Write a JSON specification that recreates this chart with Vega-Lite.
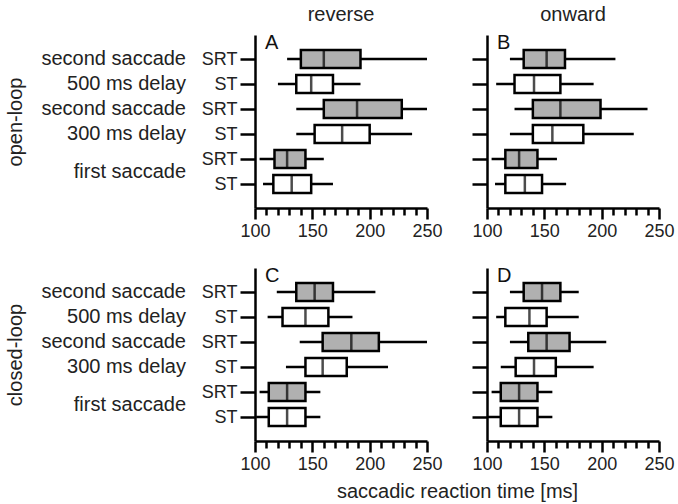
{
  "$schema": "https://vega.github.io/schema/vega-lite/v6.json",
  "padding": 5,
  "background": "white",
  "config": {
    "font": "Liberation Sans",
    "view": {"stroke": null},
    "text": {"color": "#222", "fontSize": 20},
    "axis": {"labelColor": "#222", "titleColor": "#222", "domainColor": "#000", "tickColor": "#000", "labelFontSize": 18, "titleFontSize": 20, "titleFontWeight": "normal", "grid": false, "domainWidth": 2.5, "tickWidth": 2.5, "labelFlush": false},
    "title": {"fontSize": 20, "fontWeight": "normal", "color": "#222"}
  },
  "datasets": {
    "boxes": [
      {"panel": "A", "key": "500-SRT", "type": "SRT", "min": 128, "q1": 140, "med": 160, "q3": 192, "max": 250},
      {"panel": "A", "key": "500-ST", "type": "ST", "min": 120, "q1": 136, "med": 149, "q3": 168, "max": 192},
      {"panel": "A", "key": "300-SRT", "type": "SRT", "min": 136, "q1": 160, "med": 189, "q3": 228, "max": 250},
      {"panel": "A", "key": "300-ST", "type": "ST", "min": 136, "q1": 152, "med": 176, "q3": 200, "max": 237},
      {"panel": "A", "key": "first-SRT", "type": "SRT", "min": 104, "q1": 117, "med": 128, "q3": 144, "max": 160},
      {"panel": "A", "key": "first-ST", "type": "ST", "min": 107, "q1": 116, "med": 132, "q3": 149, "max": 168},
      {"panel": "B", "key": "500-SRT", "type": "SRT", "min": 120, "q1": 132, "med": 152, "q3": 168, "max": 212},
      {"panel": "B", "key": "500-ST", "type": "ST", "min": 108, "q1": 124, "med": 141, "q3": 164, "max": 193},
      {"panel": "B", "key": "300-SRT", "type": "SRT", "min": 124, "q1": 140, "med": 164, "q3": 199, "max": 240},
      {"panel": "B", "key": "300-ST", "type": "ST", "min": 120, "q1": 140, "med": 157, "q3": 184, "max": 228},
      {"panel": "B", "key": "first-SRT", "type": "SRT", "min": 104, "q1": 116, "med": 128, "q3": 144, "max": 161},
      {"panel": "B", "key": "first-ST", "type": "ST", "min": 107, "q1": 116, "med": 133, "q3": 148, "max": 169},
      {"panel": "C", "key": "500-SRT", "type": "SRT", "min": 119, "q1": 136, "med": 152, "q3": 168, "max": 205},
      {"panel": "C", "key": "500-ST", "type": "ST", "min": 111, "q1": 124, "med": 144, "q3": 164, "max": 185},
      {"panel": "C", "key": "300-SRT", "type": "SRT", "min": 139, "q1": 159, "med": 184, "q3": 208, "max": 250},
      {"panel": "C", "key": "300-ST", "type": "ST", "min": 127, "q1": 144, "med": 159, "q3": 180, "max": 216},
      {"panel": "C", "key": "first-SRT", "type": "SRT", "min": 104, "q1": 112, "med": 128, "q3": 144, "max": 157},
      {"panel": "C", "key": "first-ST", "type": "ST", "min": 101, "q1": 112, "med": 128, "q3": 144, "max": 157},
      {"panel": "D", "key": "500-SRT", "type": "SRT", "min": 120, "q1": 132, "med": 148, "q3": 164, "max": 180},
      {"panel": "D", "key": "500-ST", "type": "ST", "min": 108, "q1": 116, "med": 137, "q3": 152, "max": 180},
      {"panel": "D", "key": "300-SRT", "type": "SRT", "min": 120, "q1": 136, "med": 152, "q3": 172, "max": 204},
      {"panel": "D", "key": "300-ST", "type": "ST", "min": 112, "q1": 125, "med": 141, "q3": 160, "max": 193},
      {"panel": "D", "key": "first-SRT", "type": "SRT", "min": 104, "q1": 112, "med": 128, "q3": 144, "max": 157},
      {"panel": "D", "key": "first-ST", "type": "ST", "min": 100, "q1": 112, "med": 128, "q3": 144, "max": 157}
    ],
    "labels": [
      {"key": "500-SRT", "text": "second saccade"},
      {"key": "500-ST", "text": "500 ms delay"},
      {"key": "300-SRT", "text": "second saccade"},
      {"key": "300-ST", "text": "300 ms delay"},
      {"key": "first-SRT", "text": "first saccade"}
    ]
  },
  "columns": 3,
  "spacing": {"row": 60, "column": 60},
  "bounds": "flush",
  "concat": [
    {
      "width": 160, "height": 173,
      "data": {"name": "labels"},
      "encoding": {
        "y": {"field": "key", "type": "nominal", "scale": {"type": "point", "domain": ["500-SRT", "500-ST", "300-SRT", "300-ST", "first-SRT", "first-ST"], "padding": 0.96}, "axis": {"title": "open-loop", "labels": false, "ticks": false, "domain": false, "titlePadding": 10}},
        "x": {"datum": 1, "type": "quantitative", "scale": {"domain": [0, 1]}, "axis": null}
      },
      "layer": [
        {"transform": [{"filter": "datum.key !== 'first-SRT'"}], "mark": {"type": "text", "align": "right", "dx": -9}, "encoding": {"text": {"field": "text"}}},
        {"transform": [{"filter": "datum.key === 'first-SRT'"}], "mark": {"type": "text", "align": "right", "dx": -9, "dy": 13}, "encoding": {"text": {"field": "text"}}}
      ]
    },
    {
      "width": 172, "height": 173,
      "title": {"text": "reverse", "frame": "group", "offset": 8},
      "data": {"name": "boxes"},
      "transform": [{"filter": "datum.panel === 'A'"}],
      "encoding": {
        "y": {"field": "key", "type": "nominal", "scale": {"type": "point", "domain": ["500-SRT", "500-ST", "300-SRT", "300-ST", "first-SRT", "first-ST"], "padding": 0.96}, "axis": {"title": null, "tickSize": 15, "labelPadding": 3, "labelExpr": "indexof(datum.value, 'SRT') >= 0 ? 'SRT' : 'ST'"}}
      },
      "resolve": {"scale": {"x": "independent"}, "axis": {"x": "independent"}},
      "layer": [
        {"mark": {"type": "rule", "strokeWidth": 2.5, "color": "#000"}, "encoding": {"x": {"field": "min", "type": "quantitative", "scale": {"domain": [100, 250], "nice": false, "zero": false}, "axis": {"orient": "bottom", "title": null, "values": [100, 150, 200, 250], "tickSize": 11, "labelPadding": 3, "labelOverlap": false}}, "x2": {"field": "max"}}},
        {"mark": {"type": "bar", "size": 18, "stroke": "#000", "strokeWidth": 2.5}, "encoding": {"x": {"field": "q1", "type": "quantitative", "scale": {"domain": [100, 250], "nice": false, "zero": false}, "axis": null}, "x2": {"field": "q3"}, "fill": {"field": "type", "type": "nominal", "scale": {"domain": ["SRT", "ST"], "range": ["#b0b0b0", "#ffffff"]}, "legend": null}}},
        {"mark": {"type": "tick", "size": 18, "thickness": 2.5, "color": "#000"}, "encoding": {"x": {"field": "med", "type": "quantitative", "scale": {"domain": [100, 250], "nice": false, "zero": false}, "axis": {"orient": "bottom", "title": null, "values": [110, 120, 130, 140, 160, 170, 180, 190, 210, 220, 230, 240], "tickSize": 7, "labels": false, "domain": false}}}},
        {"transform": [{"filter": "datum.key === '500-SRT'"}], "mark": {"type": "text", "align": "left", "baseline": "alphabetic", "dx": 10, "dy": -10, "fontSize": 20, "color": "#111"}, "encoding": {"text": {"field": "panel"}, "x": {"datum": 100, "scale": {"domain": [100, 250], "nice": false, "zero": false}, "axis": null}}}
      ]
    },
    {
      "width": 172, "height": 173,
      "title": {"text": "onward", "frame": "group", "offset": 8},
      "data": {"name": "boxes"},
      "transform": [{"filter": "datum.panel === 'B'"}],
      "encoding": {
        "y": {"field": "key", "type": "nominal", "scale": {"type": "point", "domain": ["500-SRT", "500-ST", "300-SRT", "300-ST", "first-SRT", "first-ST"], "padding": 0.96}, "axis": {"title": null, "tickSize": 15, "labels": false}}
      },
      "resolve": {"scale": {"x": "independent"}, "axis": {"x": "independent"}},
      "layer": [
        {"mark": {"type": "rule", "strokeWidth": 2.5, "color": "#000"}, "encoding": {"x": {"field": "min", "type": "quantitative", "scale": {"domain": [100, 250], "nice": false, "zero": false}, "axis": {"orient": "bottom", "title": null, "values": [100, 150, 200, 250], "tickSize": 11, "labelPadding": 3, "labelOverlap": false}}, "x2": {"field": "max"}}},
        {"mark": {"type": "bar", "size": 18, "stroke": "#000", "strokeWidth": 2.5}, "encoding": {"x": {"field": "q1", "type": "quantitative", "scale": {"domain": [100, 250], "nice": false, "zero": false}, "axis": null}, "x2": {"field": "q3"}, "fill": {"field": "type", "type": "nominal", "scale": {"domain": ["SRT", "ST"], "range": ["#b0b0b0", "#ffffff"]}, "legend": null}}},
        {"mark": {"type": "tick", "size": 18, "thickness": 2.5, "color": "#000"}, "encoding": {"x": {"field": "med", "type": "quantitative", "scale": {"domain": [100, 250], "nice": false, "zero": false}, "axis": {"orient": "bottom", "title": null, "values": [110, 120, 130, 140, 160, 170, 180, 190, 210, 220, 230, 240], "tickSize": 7, "labels": false, "domain": false}}}},
        {"transform": [{"filter": "datum.key === '500-SRT'"}], "mark": {"type": "text", "align": "left", "baseline": "alphabetic", "dx": 10, "dy": -10, "fontSize": 20, "color": "#111"}, "encoding": {"text": {"field": "panel"}, "x": {"datum": 100, "scale": {"domain": [100, 250], "nice": false, "zero": false}, "axis": null}}}
      ]
    },
    {
      "width": 160, "height": 173,
      "data": {"name": "labels"},
      "encoding": {
        "y": {"field": "key", "type": "nominal", "scale": {"type": "point", "domain": ["500-SRT", "500-ST", "300-SRT", "300-ST", "first-SRT", "first-ST"], "padding": 0.96}, "axis": {"title": "closed-loop", "labels": false, "ticks": false, "domain": false, "titlePadding": 10}},
        "x": {"datum": 1, "type": "quantitative", "scale": {"domain": [0, 1]}, "axis": null}
      },
      "layer": [
        {"transform": [{"filter": "datum.key !== 'first-SRT'"}], "mark": {"type": "text", "align": "right", "dx": -9}, "encoding": {"text": {"field": "text"}}},
        {"transform": [{"filter": "datum.key === 'first-SRT'"}], "mark": {"type": "text", "align": "right", "dx": -9, "dy": 13}, "encoding": {"text": {"field": "text"}}}
      ]
    },
    {
      "width": 172, "height": 173,
      "data": {"name": "boxes"},
      "transform": [{"filter": "datum.panel === 'C'"}],
      "encoding": {
        "y": {"field": "key", "type": "nominal", "scale": {"type": "point", "domain": ["500-SRT", "500-ST", "300-SRT", "300-ST", "first-SRT", "first-ST"], "padding": 0.96}, "axis": {"title": null, "tickSize": 15, "labelPadding": 3, "labelExpr": "indexof(datum.value, 'SRT') >= 0 ? 'SRT' : 'ST'"}}
      },
      "resolve": {"scale": {"x": "independent"}, "axis": {"x": "independent"}},
      "layer": [
        {"mark": {"type": "rule", "strokeWidth": 2.5, "color": "#000"}, "encoding": {"x": {"field": "min", "type": "quantitative", "scale": {"domain": [100, 250], "nice": false, "zero": false}, "axis": {"orient": "bottom", "title": "saccadic reaction time [ms]", "titleX": 202, "titlePadding": 8, "values": [100, 150, 200, 250], "tickSize": 11, "labelPadding": 3, "labelOverlap": false}}, "x2": {"field": "max"}}},
        {"mark": {"type": "bar", "size": 18, "stroke": "#000", "strokeWidth": 2.5}, "encoding": {"x": {"field": "q1", "type": "quantitative", "scale": {"domain": [100, 250], "nice": false, "zero": false}, "axis": null}, "x2": {"field": "q3"}, "fill": {"field": "type", "type": "nominal", "scale": {"domain": ["SRT", "ST"], "range": ["#b0b0b0", "#ffffff"]}, "legend": null}}},
        {"mark": {"type": "tick", "size": 18, "thickness": 2.5, "color": "#000"}, "encoding": {"x": {"field": "med", "type": "quantitative", "scale": {"domain": [100, 250], "nice": false, "zero": false}, "axis": {"orient": "bottom", "title": null, "values": [110, 120, 130, 140, 160, 170, 180, 190, 210, 220, 230, 240], "tickSize": 7, "labels": false, "domain": false}}}},
        {"transform": [{"filter": "datum.key === '500-SRT'"}], "mark": {"type": "text", "align": "left", "baseline": "alphabetic", "dx": 10, "dy": -10, "fontSize": 20, "color": "#111"}, "encoding": {"text": {"field": "panel"}, "x": {"datum": 100, "scale": {"domain": [100, 250], "nice": false, "zero": false}, "axis": null}}}
      ]
    },
    {
      "width": 172, "height": 173,
      "data": {"name": "boxes"},
      "transform": [{"filter": "datum.panel === 'D'"}],
      "encoding": {
        "y": {"field": "key", "type": "nominal", "scale": {"type": "point", "domain": ["500-SRT", "500-ST", "300-SRT", "300-ST", "first-SRT", "first-ST"], "padding": 0.96}, "axis": {"title": null, "tickSize": 15, "labels": false}}
      },
      "resolve": {"scale": {"x": "independent"}, "axis": {"x": "independent"}},
      "layer": [
        {"mark": {"type": "rule", "strokeWidth": 2.5, "color": "#000"}, "encoding": {"x": {"field": "min", "type": "quantitative", "scale": {"domain": [100, 250], "nice": false, "zero": false}, "axis": {"orient": "bottom", "title": null, "values": [100, 150, 200, 250], "tickSize": 11, "labelPadding": 3, "labelOverlap": false}}, "x2": {"field": "max"}}},
        {"mark": {"type": "bar", "size": 18, "stroke": "#000", "strokeWidth": 2.5}, "encoding": {"x": {"field": "q1", "type": "quantitative", "scale": {"domain": [100, 250], "nice": false, "zero": false}, "axis": null}, "x2": {"field": "q3"}, "fill": {"field": "type", "type": "nominal", "scale": {"domain": ["SRT", "ST"], "range": ["#b0b0b0", "#ffffff"]}, "legend": null}}},
        {"mark": {"type": "tick", "size": 18, "thickness": 2.5, "color": "#000"}, "encoding": {"x": {"field": "med", "type": "quantitative", "scale": {"domain": [100, 250], "nice": false, "zero": false}, "axis": {"orient": "bottom", "title": null, "values": [110, 120, 130, 140, 160, 170, 180, 190, 210, 220, 230, 240], "tickSize": 7, "labels": false, "domain": false}}}},
        {"transform": [{"filter": "datum.key === '500-SRT'"}], "mark": {"type": "text", "align": "left", "baseline": "alphabetic", "dx": 10, "dy": -10, "fontSize": 20, "color": "#111"}, "encoding": {"text": {"field": "panel"}, "x": {"datum": 100, "scale": {"domain": [100, 250], "nice": false, "zero": false}, "axis": null}}}
      ]
    }
  ]
}
